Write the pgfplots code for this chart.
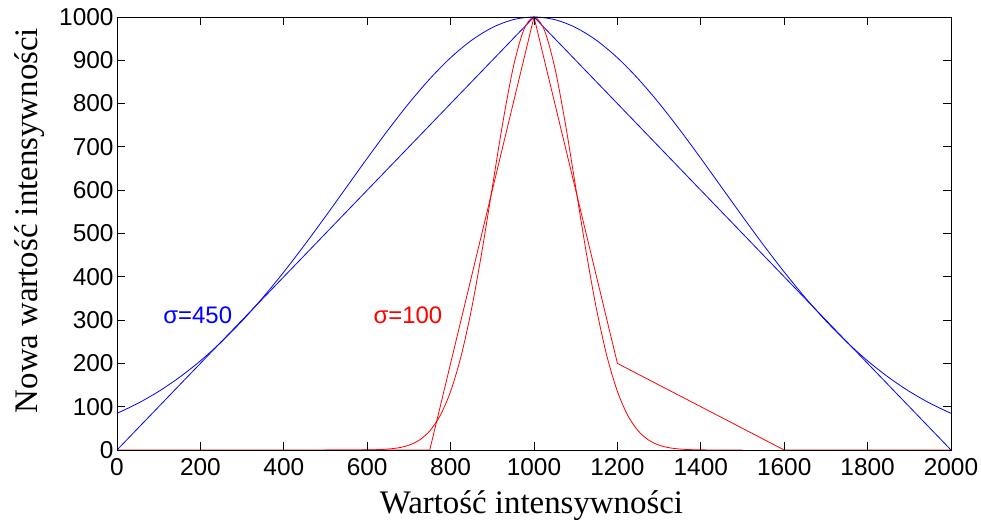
\documentclass[border=0pt]{standalone}
\usepackage{fontspec}
\setmainfont{Liberation Serif}
\newfontfamily\arial{Liberation Sans}
\usepackage{pgfplots}
\pgfplotsset{compat=1.18}

\begin{document}
\begin{tikzpicture}

\begin{axis}
[
    name=ax,
    scale only axis,
    width=834bp, height=433bp,
    xmin=0, xmax=2000,
    ymin=0, ymax=1000,
    xtick={0,200,...,2000},
    ytick={0,100,...,1000},
    scaled ticks=false,
    tick align=inside,
    major tick length=8bp,
    axis on top,
    axis line style={line width=0.8pt},
    tick style={line width=0.8pt, black},
    /pgf/number format/1000 sep={},
    /pgf/number format/assume math mode=true,
    tick label style={font=\arial\fontsize{24.5}{28}\selectfont},
    xticklabel style={yshift=-5bp},
    yticklabel style={xshift=0bp},
    xlabel={Wartość intensywności},
    ylabel={Nowa wartość intensywności},
    label style={font=\fontsize{33}{38}\selectfont},
    xlabel style={at={(axis description cs:0.497,-0.1455)}, anchor=base},
    ylabel style={at={(axis description cs:-0.0959,0.53)}, anchor=base},
]

% blue: triangle and Gaussian, sigma = 450
\addplot [blue, line width=0.8pt] coordinates {(0,0) (1000,1000) (2000,0)};

\addplot [blue, line width=0.8pt, smooth] coordinates
{
    (0,84.65) (50,107.71) (100,135.34) (150,167.97) (200,205.92)
    (250,249.35) (300,298.23) (350,352.32) (400,411.11) (450,473.83)
    (500,539.41) (550,606.53) (600,673.64) (650,738.99) (700,800.74)
    (750,857.00) (800,905.95) (850,945.96) (900,975.61) (950,993.85)
    (1000,1000)
    (1050,993.85) (1100,975.61) (1150,945.96) (1200,905.95) (1250,857.00)
    (1300,800.74) (1350,738.99) (1400,673.64) (1450,606.53) (1500,539.41)
    (1550,473.83) (1600,411.11) (1650,352.32) (1700,298.23) (1750,249.35)
    (1800,205.92) (1850,167.97) (1900,135.34) (1950,107.71) (2000,84.65)
};

% red: piecewise line and Gaussian, sigma = 100
\addplot [red, line width=0.8pt] coordinates
{
    (0,0) (750,0) (1000,1000) (1200,200) (1600,0) (2000,0)
};

\addplot [red, line width=0.8pt, smooth] coordinates
{
    (500,0.00) (550,0.04) (600,0.34) (625,0.88) (650,2.19)
    (675,5.09) (700,11.11) (725,22.79) (750,43.94) (775,79.56)
    (800,135.34) (825,216.27) (850,324.65) (875,457.83) (900,606.53)
    (925,754.84) (950,882.50) (975,969.23) (1000,1000)
    (1025,969.23) (1050,882.50) (1075,754.84) (1100,606.53) (1125,457.83)
    (1150,324.65) (1175,216.27) (1200,135.34) (1225,79.56) (1250,43.94)
    (1275,22.79) (1300,11.11) (1325,5.09) (1350,2.19) (1375,0.88)
    (1400,0.34) (1450,0.04) (1500,0.00)
};

\node [blue, anchor=base west, font=\arial\fontsize{24}{28}\selectfont]
    at (axis cs:103,293) {σ=450};
\node [red, anchor=base west, font=\arial\fontsize{24}{28}\selectfont]
    at (axis cs:607,293) {σ=100};

\end{axis}

\pgfresetboundingbox
\path [use as bounding box]
    ([shift={(-117bp,-70bp)}]ax.south west)
    rectangle ([shift={(30bp,17bp)}]ax.north east);

\end{tikzpicture}
\end{document}
